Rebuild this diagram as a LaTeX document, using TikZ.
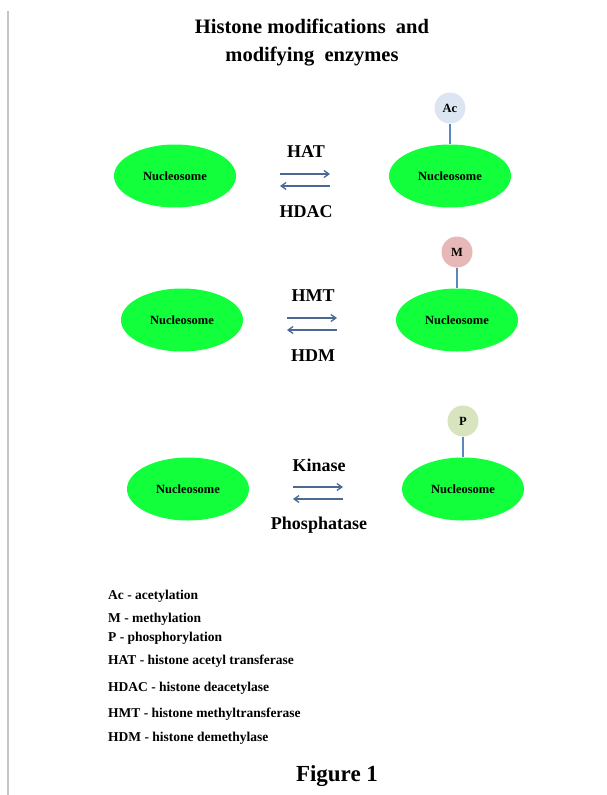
\documentclass[tikz,border=0pt]{standalone}
\usepackage{fontspec}
\setmainfont{Liberation Serif}
\usetikzlibrary{arrows.meta,shapes.geometric}
\definecolor{nucgreen}{HTML}{12FF3C}
\definecolor{acfill}{HTML}{DCE6F2}
\definecolor{mfill}{HTML}{E6B9B8}
\definecolor{pfill}{HTML}{D7E4BD}
\definecolor{stem}{HTML}{5B86BC}
\definecolor{arrowblue}{HTML}{4A6A94}
\definecolor{frame}{HTML}{C4C4C4}

\begin{document}
\begin{tikzpicture}[x=1pt,y=-1pt,font=\bfseries,
    >={Straight Barb[length=5pt,width=7pt]},
    nucleosome/.style={ellipse,fill=nucgreen,minimum width=122pt,
      minimum height=63pt,inner sep=0pt,
      font=\fontsize{12.5}{14}\selectfont\bfseries},
    modmark/.style={circle,minimum size=31pt,inner sep=0pt,
      font=\fontsize{12.5}{14}\selectfont\bfseries},
    enzyme/.style={font=\fontsize{18}{20}\selectfont\bfseries},
    legend/.style={anchor=base west,inner sep=0pt,
      font=\fontsize{13.5}{15}\selectfont\bfseries}]
  \useasboundingbox (0,0) rectangle (607,795);
  \draw[frame,line width=1.5pt] (8,11) -- (8,795);
  \node[font=\fontsize{20.5}{28}\selectfont\bfseries,align=center] (title)
    at (312,43) {Histone modifications\ \ and\\modifying\ \ enzymes};
  % three reactions, each one row
  \foreach \n/\dx/\y/\mk/\col/\fwd/\bwd in
    {1/0/176/Ac/acfill/HAT/HDAC,
     2/7/320/M/mfill/HMT/HDM,
     3/13/489/P/pfill/Kinase/Phosphatase}{
    \node[nucleosome] (plain\n) at (175+\dx,\y) {Nucleosome};
    \node[nucleosome] (marked\n) at (450+\dx,\y) {Nucleosome};
    \node[modmark,fill=\col] (mark\n) at (450+\dx,\y-68) {\mk};
    \draw[stem,line width=1.5pt] (mark\n) -- (marked\n);
    \node[enzyme] (fwd\n) at (306+\dx,\y-24) {\fwd};
    \node[enzyme] (bwd\n) at (306+\dx,\y+36) {\bwd};
    \coordinate (fs\n) at (280+\dx,\y-2);
    \coordinate (fe\n) at (330+\dx,\y-2);
    \coordinate (bs\n) at (280+\dx,\y+10);
    \coordinate (be\n) at (330+\dx,\y+10);
    \draw[->,arrowblue,line width=1.3pt] (fs\n) -- (fe\n);
    \draw[->,arrowblue,line width=1.3pt] (be\n) -- (bs\n);
  }
  % key to the abbreviations
  \foreach \txt/\yy [count=\i] in
    {Ac - acetylation/599,
     M - methylation/622,
     P - phosphorylation/641,
     HAT\ - histone acetyl transferase/664,
     HDAC - histone deacetylase/691,
     HMT - histone methyltransferase/717,
     HDM - histone demethylase/741}
    \node[legend] (key\i) at (108,\yy) {\txt};
  \node[font=\fontsize{23}{26}\selectfont\bfseries] (caption)
    at (337,776) {Figure 1};
\end{tikzpicture}
\end{document}
